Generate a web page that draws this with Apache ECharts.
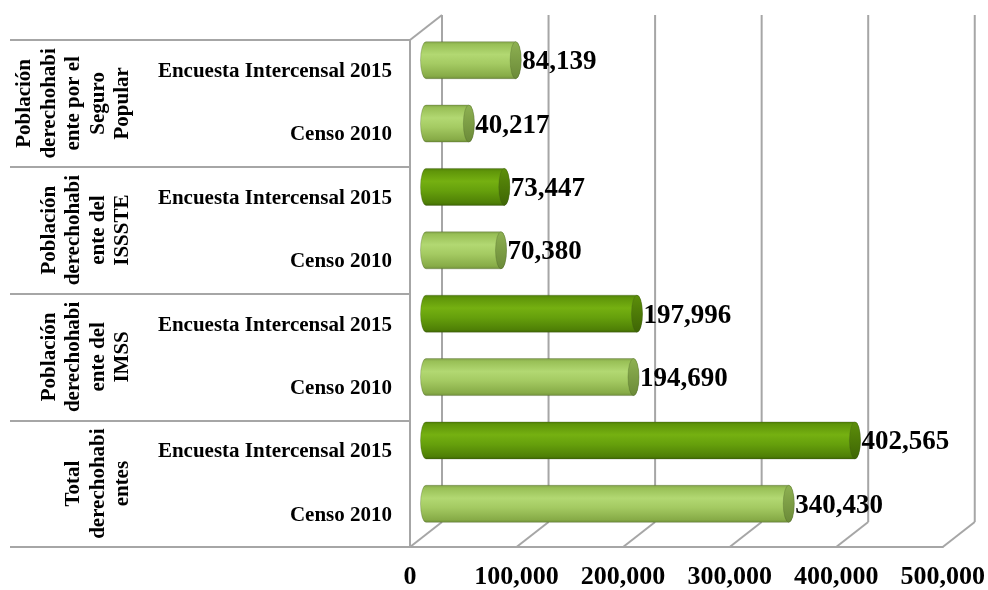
<!DOCTYPE html>
<html>
<head>
<meta charset="utf-8">
<script src="https://cdn.jsdelivr.net/npm/echarts@6/dist/echarts.min.js"></script>
<style>html,body{margin:0;padding:0;background:#fff}#c{width:988px;height:590px}</style>
</head>
<body>
<div id="c"></div>
<script>
// Categories listed top to bottom
const categories = ['Encuesta Intercensal 2015', 'Censo 2010', 'Encuesta Intercensal 2015', 'Censo 2010',
  'Encuesta Intercensal 2015', 'Censo 2010', 'Encuesta Intercensal 2015', 'Censo 2010'];
const values = [84139, 40217, 73447, 70380, 197996, 194690, 402565, 340430];
const groups = ['Población\nderechohabi\nente por el\nSeguro\nPopular',
  'Población\nderechohabi\nente del\nISSSTE',
  'Población\nderechohabi\nente del\nIMSS',
  'Total\nderechohabi\nentes'];
const xTicks = [0, 100000, 200000, 300000, 400000, 500000];
const barTone = ['light', 'light', 'dark', 'light', 'dark', 'light', 'dark', 'light'];

const FONT = '"Liberation Serif", "Times New Roman", serif';
const GRAY = '#a6a6a6';
const fmt = v => String(v).replace(/\B(?=(\d{3})+(?!\d))/g, ',');

const tones = {
  light: {
    body: [[0, '#7f9f48'], [0.08, '#98bf56'], [0.35, '#b2d872'], [0.6, '#a4ca62'], [0.92, '#87ab47'], [1, '#6d8c39']],
    cap: [[0, '#8eb152'], [1, '#6b8a38']]
  },
  dark: {
    body: [[0, '#4c7a07'], [0.08, '#5f9509'], [0.35, '#75b011'], [0.6, '#66a00c'], [0.92, '#4f8006'], [1, '#3d6404']],
    cap: [[0, '#5d8f0a'], [1, '#3e6505']]
  }
};
const grad = stops => ({type: 'linear', x: 0, y: 0, x2: 0, y2: 1,
  colorStops: stops.map(s => ({offset: s[0], color: s[1]}))});

const chart = echarts.init(document.getElementById('c'), null, {renderer: 'canvas'});
chart.setOption({
  animation: false,
  backgroundColor: '#fff',
  grid: {left: 410, top: 40, right: 41, bottom: 40, containLabel: false},
  xAxis: {
    type: 'value', min: 0, max: 500000, interval: 100000,
    splitLine: {show: false}, axisTick: {show: false},
    axisLine: {show: true, lineStyle: {color: GRAY, width: 2}},
    axisLabel: {margin: 17, formatter: v => fmt(v), fontSize: 26, fontWeight: 'bold', fontFamily: FONT, color: '#000'}
  },
  yAxis: [{
    type: 'category', data: categories, inverse: true,
    axisLine: {show: true, lineStyle: {color: GRAY, width: 2}},
    axisTick: {show: false},
    axisLabel: {margin: 18, fontSize: 21, fontWeight: 'bold', fontFamily: FONT, color: '#000', interval: 0}
  }, {
    type: 'category', data: groups, inverse: true, position: 'left',
    axisLine: {show: false},
    axisTick: {show: true, length: 400, interval: 0, alignWithLabel: false, lineStyle: {color: GRAY, width: 2}},
    axisLabel: {rotate: 90, margin: 275, fontSize: 21, lineHeight: 24.5, fontWeight: 'bold', fontFamily: FONT, color: '#000', interval: 0},
    splitLine: {show: false}
  }],
  series: [{
    type: 'custom', name: 'frame', z: 1, clip: false, silent: true,
    data: xTicks.map(v => [v, 0]),
    encode: {x: 0, y: 1},
    renderItem: function (params, api) {
      const x = api.coord([api.value(0), 0])[0];
      const cs = params.coordSys;
      const top = cs.y, bot = cs.y + cs.height;
      const dX = 32, dY = -25;
      const st = {stroke: GRAY, lineWidth: 2};
      const ch = [
        {type: 'line', shape: {x1: x + dX, y1: top + dY, x2: x + dX, y2: bot + dY}, style: st},
        {type: 'line', shape: {x1: x, y1: bot, x2: x + dX, y2: bot + dY}, style: st}
      ];
      if (api.value(0) === 0) {
        ch.push({type: 'line', shape: {x1: x, y1: top, x2: x + dX, y2: top + dY}, style: st});
      }
      return {type: 'group', children: ch};
    }
  }, {
    type: 'custom', name: 'bars', z: 5, clip: false,
    data: values.map((v, i) => [v, i]),
    encode: {x: 0, y: 1},
    renderItem: function (params, api) {
      const v = api.value(0), i = api.value(1);
      const s = api.coord([0, i]), e = api.coord([v, i]);
      const dx = 16, dy = -11.5, rx = 5.5, h = 18.5;
      const x0 = s[0] + dx, x1 = e[0] + dx, cy = s[1] + dy;
      const t = tones[barTone[params.dataIndex]];
      const body = `M ${x0} ${cy - h} L ${x1} ${cy - h} A ${rx} ${h} 0 0 1 ${x1} ${cy + h} L ${x0} ${cy + h} A ${rx} ${h} 0 0 1 ${x0} ${cy - h} Z`;
      const cap = `M ${x1} ${cy - h} A ${rx} ${h} 0 0 1 ${x1} ${cy + h} A ${rx} ${h} 0 0 1 ${x1} ${cy - h} Z`;
      return {type: 'group', children: [
        {type: 'path', shape: {pathData: body}, style: {fill: grad(t.body), stroke: 'rgba(60,80,30,0.35)', lineWidth: 0.8}},
        {type: 'path', shape: {pathData: cap}, style: {fill: grad(t.cap), stroke: 'rgba(60,80,30,0.3)', lineWidth: 0.8}},
        {type: 'text', style: {text: fmt(v), x: x1 + rx + 1, y: cy + 2, fontSize: 27, fontWeight: 'bold', fontFamily: FONT,
          fill: '#000', align: 'left', verticalAlign: 'middle'}}
      ]};
    }
  }]
});
</script>
</body>
</html>
